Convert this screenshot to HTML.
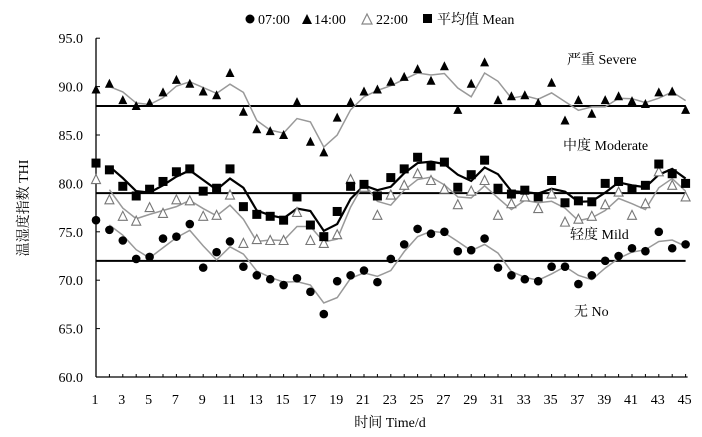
<!DOCTYPE html>
<html><head><meta charset="utf-8">
<style>
html,body{margin:0;padding:0;background:#fff;}
svg{display:block;font-family:"Liberation Serif","Noto Serif CJK SC",serif;}
</style></head>
<body>
<svg id="chart" width="702" height="437" viewBox="0 0 702 437" xmlns="http://www.w3.org/2000/svg">
<g id="legend" font-size="14" fill="#000">
  <g><circle cx="250" cy="19" r="4.5" fill="#000"/><text x="258" y="24">07:00</text></g>
  <g><polygon points="302,24 307,14 312,24" fill="#000"/><text x="314" y="24">14:00</text></g>
  <g><polygon points="362,24 367,14 372,24" fill="#fff" stroke="#888" stroke-width="1.2"/><text x="376" y="24">22:00</text></g>
  <g><rect x="423" y="14" width="9" height="9" fill="#000"/><text x="437" y="24">平均值 Mean</text></g>
</g>
<g id="axes"></g>
<g id="reflines"></g>
<g id="series"></g>
<g font-size="14">
  <text x="567" y="64">严重 Severe</text>
  <text x="563" y="150">中度 Moderate</text>
  <text x="570" y="239">轻度  Mild</text>
  <text x="574" y="316">无 No</text>
</g>
<text x="390" y="427" font-size="14" text-anchor="middle">时间 Time/d</text>
<text transform="translate(28,208) rotate(-90)" font-size="14" text-anchor="middle">温湿度指数 THI</text>
</svg>
<script>
const days = Array.from({length:45},(_,i)=>i+1);
const yTicks = [60,65,70,75,80,85,90,95];
const refLevels = [88,79,72];
const s0700 = [76.2,75.2,74.1,72.2,72.4,74.3,74.5,75.8,71.3,72.9,74.0,71.4,70.5,70.1,69.5,70.2,68.8,66.5,69.9,70.5,71.0,69.8,72.2,73.7,75.3,74.8,75.0,73.0,73.1,74.3,71.3,70.5,70.1,69.9,71.4,71.4,69.6,70.5,72.0,72.5,73.3,73.0,75.0,73.3,73.7];
const s1400 = [89.7,90.3,88.6,88.0,88.3,89.4,90.7,90.3,89.5,89.1,91.4,87.4,85.6,85.4,85.0,88.4,84.3,83.2,86.8,88.4,89.5,89.7,90.5,91.0,91.8,90.6,92.1,87.6,90.3,92.5,88.6,89.0,89.1,88.3,90.4,86.5,88.6,87.2,88.6,89.0,88.5,88.2,89.4,89.5,87.6];
const s2200 = [80.4,78.3,76.6,76.1,77.5,76.9,78.3,78.2,76.6,76.7,78.8,73.8,74.2,74.1,74.1,77.0,74.1,73.8,74.7,80.4,79.6,76.7,78.8,79.8,81.0,80.3,79.4,77.8,79.2,80.3,76.7,77.9,78.6,77.4,78.9,76.0,76.3,76.6,77.8,79.1,76.7,77.9,81.2,79.8,78.6];
const sMean = [82.1,81.4,79.7,78.7,79.4,80.2,81.2,81.5,79.2,79.5,81.5,77.6,76.8,76.6,76.2,78.6,75.7,74.5,77.1,79.7,79.9,78.7,80.6,81.5,82.7,81.8,82.2,79.6,80.9,82.4,79.5,78.9,79.3,78.6,80.3,78.0,78.2,78.1,80.0,80.2,79.4,79.8,82.0,81.0,80.0];

const NS="http://www.w3.org/2000/svg";
const X0=96, DX=13.4, Y0=377, PY=9.68;
const xS=d=>X0+(d-1)*DX;
const yS=v=>Y0-(v-60)*PY;
function mk(tag,attrs,parent){const e=document.createElementNS(NS,tag);for(const k in attrs)e.setAttribute(k,attrs[k]);parent.appendChild(e);return e;}
const axes=document.getElementById('axes');
const yAxis=mk('line',{x1:X0,y1:yS(95),x2:X0,y2:Y0,stroke:'#000','stroke-width':1.3},axes);


const xAxis=mk('line',{x1:X0,y1:Y0,x2:xS(45)+2,y2:Y0,stroke:'#000','stroke-width':1.3},axes);


yTicks.forEach(v=>{
  mk('line',{x1:X0,y1:yS(v),x2:X0+4,y2:yS(v),stroke:'#000'},axes);
  const t=mk('text',{x:X0-13,y:yS(v)+5,'font-size':14,'text-anchor':'end'},axes);
  t.textContent=v.toFixed(1);
  
  
});
days.forEach(d=>{
  if(d>1) mk('line',{x1:xS(d),y1:Y0,x2:xS(d),y2:Y0-3,stroke:'#000'},axes);
  if(d%2===1){
    const t=mk('text',{x:xS(d)-1,y:404,'font-size':14,'text-anchor':'middle'},axes);
    t.textContent=d;
    
    
  }
});
const refs=document.getElementById('reflines');
refLevels.forEach(v=>{
  const l=mk('line',{x1:X0,y1:yS(v),x2:xS(45),y2:yS(v),stroke:'#000','stroke-width':2},refs);
  
  
});
const ser=document.getElementById('series');
function maLine(arr,color,w,name){
  const pts=[];for(let i=1;i<arr.length;i++)pts.push(xS(days[i])+','+yS((arr[i]+arr[i-1])/2));
  const p=mk('polyline',{points:pts.join(' '),fill:'none',stroke:color,'stroke-width':w},ser);
  
  
}
maLine(s0700,'#999',1.5,'ma-line-0700');
maLine(s1400,'#999',1.5,'ma-line-1400');
maLine(s2200,'#999',1.5,'ma-line-2200');
maLine(sMean,'#000',2.2,'ma-line-mean');
s0700.forEach((v,i)=>{const c=mk('circle',{cx:xS(days[i]),cy:yS(v),r:4.3,fill:'#000'},ser);
  
  });
s1400.forEach((v,i)=>{const x=xS(days[i]),y=yS(v);const p=mk('polygon',{points:`${x-4.5},${y+4} ${x},${y-5} ${x+4.5},${y+4}`,fill:'#000'},ser);
  
  });
s2200.forEach((v,i)=>{const x=xS(days[i]),y=yS(v);const p=mk('polygon',{points:`${x-4.5},${y+4} ${x},${y-5} ${x+4.5},${y+4}`,fill:'#fff',stroke:'#777','stroke-width':1.1},ser);
  
  });
sMean.forEach((v,i)=>{const r=mk('rect',{x:xS(days[i])-4.5,y:yS(v)-4.5,width:9,height:9,fill:'#000'},ser);
  
  });
</script>
</body></html>
